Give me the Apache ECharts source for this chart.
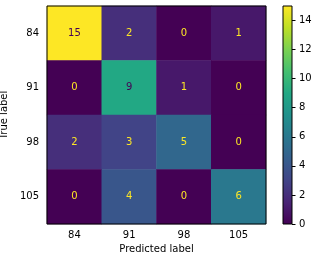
<!DOCTYPE html>
<html><head><meta charset="utf-8">
<script src="https://cdn.jsdelivr.net/npm/echarts@6/dist/echarts.min.js"></script>
<style>html,body{margin:0;padding:0;background:#fff}#c{width:319px;height:262px}</style>
</head><body><div id="c"></div>
<script>
const predLabels = ['84','91','98','105'];
const trueLabels = ['84','91','98','105'];
const matrix = [
  [15, 2, 0, 1],
  [0, 9, 1, 0],
  [2, 3, 5, 0],
  [0, 4, 0, 6]
];
const cbMax = 15;
const viridis = ['#440154','#482475','#414487','#355f8d','#2a788e','#21918c','#22a884','#44bf70','#7ad151','#bddf26','#fde725'];

const data = [];
let vmin = Infinity, vmax = -Infinity;
matrix.forEach(r => r.forEach(v => { vmin = Math.min(vmin, v); vmax = Math.max(vmax, v); }));
const thresh = (vmin + vmax) / 2;
matrix.forEach((row, i) => row.forEach((v, j) => {
  data.push({ value: [j, i, v], label: { color: v < thresh ? '#fde725' : '#440154' } });
}));

const font = 'DejaVu Sans';
const chart = echarts.init(document.getElementById('c'), null, { renderer: 'canvas' });
chart.setOption({
  animation: false,
  grid: [
    { left: 47, top: 6, width: 219, height: 218, show: true, borderColor: '#000', borderWidth: 1, backgroundColor: 'transparent', z: 10, containLabel: false, outerBoundsMode: 'none' },
    { left: 283, top: 6, width: 9, height: 218, show: true, borderColor: '#000', borderWidth: 1, backgroundColor: 'transparent', z: 10, containLabel: false, outerBoundsMode: 'none' }
  ],
  xAxis: [
    { type: 'category', gridIndex: 0, data: predLabels, name: 'Predicted label', nameLocation: 'middle', nameGap: 20,
      nameTextStyle: { fontFamily: font, fontSize: 10, color: '#000' },
      axisLine: { show: false }, axisTick: { alignWithLabel: true, length: 3.5, lineStyle: { color: '#000' } },
      axisLabel: { fontFamily: font, fontSize: 10, color: '#000', margin: 6 }, splitLine: { show: false } },
    { type: 'category', gridIndex: 1, data: [''], show: false }
  ],
  yAxis: [
    { type: 'category', gridIndex: 0, data: trueLabels, inverse: true, name: 'True label', nameLocation: 'middle', nameGap: 34,
      nameTextStyle: { fontFamily: font, fontSize: 10, color: '#000' },
      axisLine: { show: false }, axisTick: { alignWithLabel: true, length: 3.5, lineStyle: { color: '#000' } },
      axisLabel: { fontFamily: font, fontSize: 10, color: '#000', margin: 8 }, splitLine: { show: false } },
    { type: 'value', gridIndex: 1, position: 'right', min: 0, max: cbMax, interval: 2,
      axisLine: { show: false }, axisTick: { show: true, length: 3.5, lineStyle: { color: '#000' } },
      axisLabel: { fontFamily: font, fontSize: 10, color: '#000', margin: 7, showMaxLabel: false }, splitLine: { show: false } }
  ],
  visualMap: { show: false, min: 0, max: cbMax, seriesIndex: 0, inRange: { color: viridis } },
  series: [
    { type: 'heatmap', xAxisIndex: 0, yAxisIndex: 0, data: data,
      label: { show: true, fontFamily: font, fontSize: 10 }, itemStyle: { borderWidth: 0 } },
    { type: 'bar', xAxisIndex: 1, yAxisIndex: 1, data: [cbMax], barWidth: '100%', silent: true,
      itemStyle: { color: { type: 'linear', x: 0, y: 1, x2: 0, y2: 0,
        colorStops: viridis.map((c, k) => ({ offset: k / (viridis.length - 1), color: c })) } } }
  ]
});
</script></body></html>
